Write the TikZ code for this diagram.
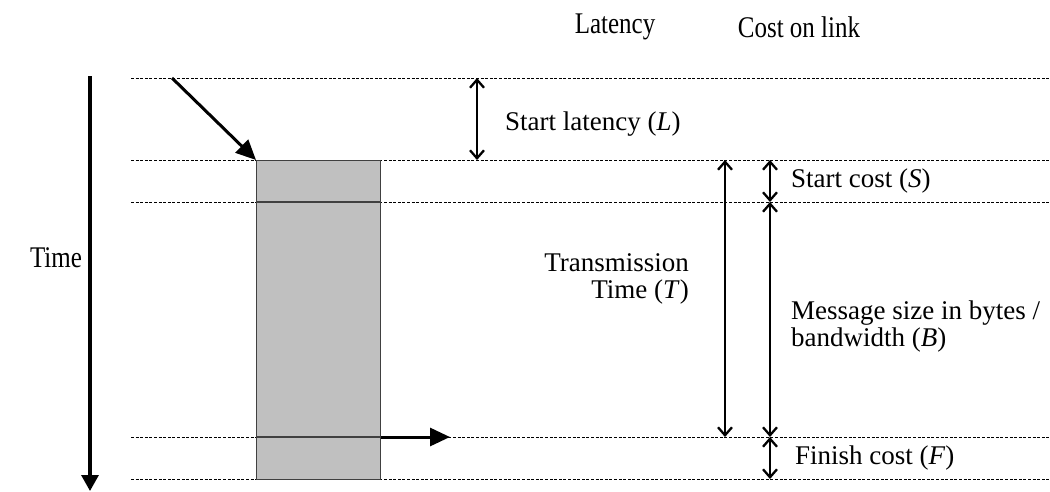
\documentclass[tikz,border=0pt]{standalone}
\usepackage{fontspec}
\setmainfont{Liberation Serif}
\usetikzlibrary{arrows.meta}
\definecolor{boxgray}{HTML}{C0C0C0}
\definecolor{boxedge}{HTML}{404040}
\begin{document}
\begin{tikzpicture}[x=1pt,y=-1pt,
  guide/.style={line width=1pt, dash pattern=on 3pt off 1.6pt},
  boxline/.style={line width=1.2pt, draw=boxedge},
  bigarrow/.style={line width=3pt, -{Triangle[length=20pt,width=18pt]}},
  timearrow/.style={line width=3.2pt, -{Triangle[length=16pt,width=17pt]}},
  span/.style={line width=2.3pt, {Straight Barb[length=8pt,width=14pt]}-{Straight Barb[length=8pt,width=14pt]}},
  head/.style={font=\fontsize{25}{28}\selectfont, inner sep=0pt, yscale=1.2, transform shape},
  lbl/.style={font=\fontsize{27}{27}\selectfont, inner sep=0pt, anchor=west}
]
\useasboundingbox (0,0) rectangle (1050,491);

% horizontal guide lines
\coordinate (g0l) at (131,78);  \coordinate (g0r) at (1050,78);
\coordinate (g1l) at (131,160); \coordinate (g1r) at (1050,160);
\coordinate (g2l) at (131,202); \coordinate (g2r) at (1050,202);
\coordinate (g3l) at (131,437); \coordinate (g3r) at (1050,437);
\coordinate (g4l) at (131,479); \coordinate (g4r) at (1050,479);
\foreach \g in {0,1,2,3,4} \draw[guide] (g\g l) -- (g\g r);

% time axis
\coordinate (ttop) at (90,76);
\coordinate (tbot) at (90,491);
\draw[timearrow] (ttop) -- (tbot);
\node[head] (time) at (56,258) {Time};

% column headings
\node[head] (lat) at (615,27) {Latency};
\node[head] (cost) at (799,27) {Cost on link};

% message block
\node[draw=boxedge, fill=boxgray, line width=1.2pt, minimum width=124pt,
      minimum height=319pt, inner sep=0pt, anchor=north west] (msg) at (256,160) {};
\draw[boxline] (msg.west |- g2l) -- (msg.east |- g2l);
\draw[boxline] (msg.west |- g3l) -- (msg.east |- g3l);

% message in and out
\coordinate (src) at (172,78);
\coordinate (out) at (450,437);
\draw[bigarrow] (src) -- (msg.north west);
\draw[bigarrow] (msg.east |- g3l) -- (out);

% latency spans
\coordinate (la) at (477,78);  \coordinate (lb) at (477,160);
\draw[span] (la) -- (lb);
\node[lbl] (lL) at (505,124) {Start latency (\textit{L})};

\coordinate (ta) at (725,160); \coordinate (tb) at (725,437);
\draw[span] (ta) -- (tb);
\node[lbl, anchor=east, align=right] (lT) at (689,279) {Transmission\\Time (\textit{T})};

% cost spans
\coordinate (c1) at (770,160); \coordinate (c2) at (770,202);
\coordinate (c3) at (770,437); \coordinate (c4) at (770,479);
\draw[span] (c1) -- (c2);
\draw[span] (c2) -- (c3);
\draw[span] (c3) -- (c4);
\node[lbl] (lS) at (791,181) {Start cost (\textit{S})};
\node[lbl, align=left] (lB) at (791,326) {Message size in bytes /\\bandwidth (\textit{B})};
\node[lbl] (lF) at (795,458) {Finish cost (\textit{F})};
\end{tikzpicture}
\end{document}
